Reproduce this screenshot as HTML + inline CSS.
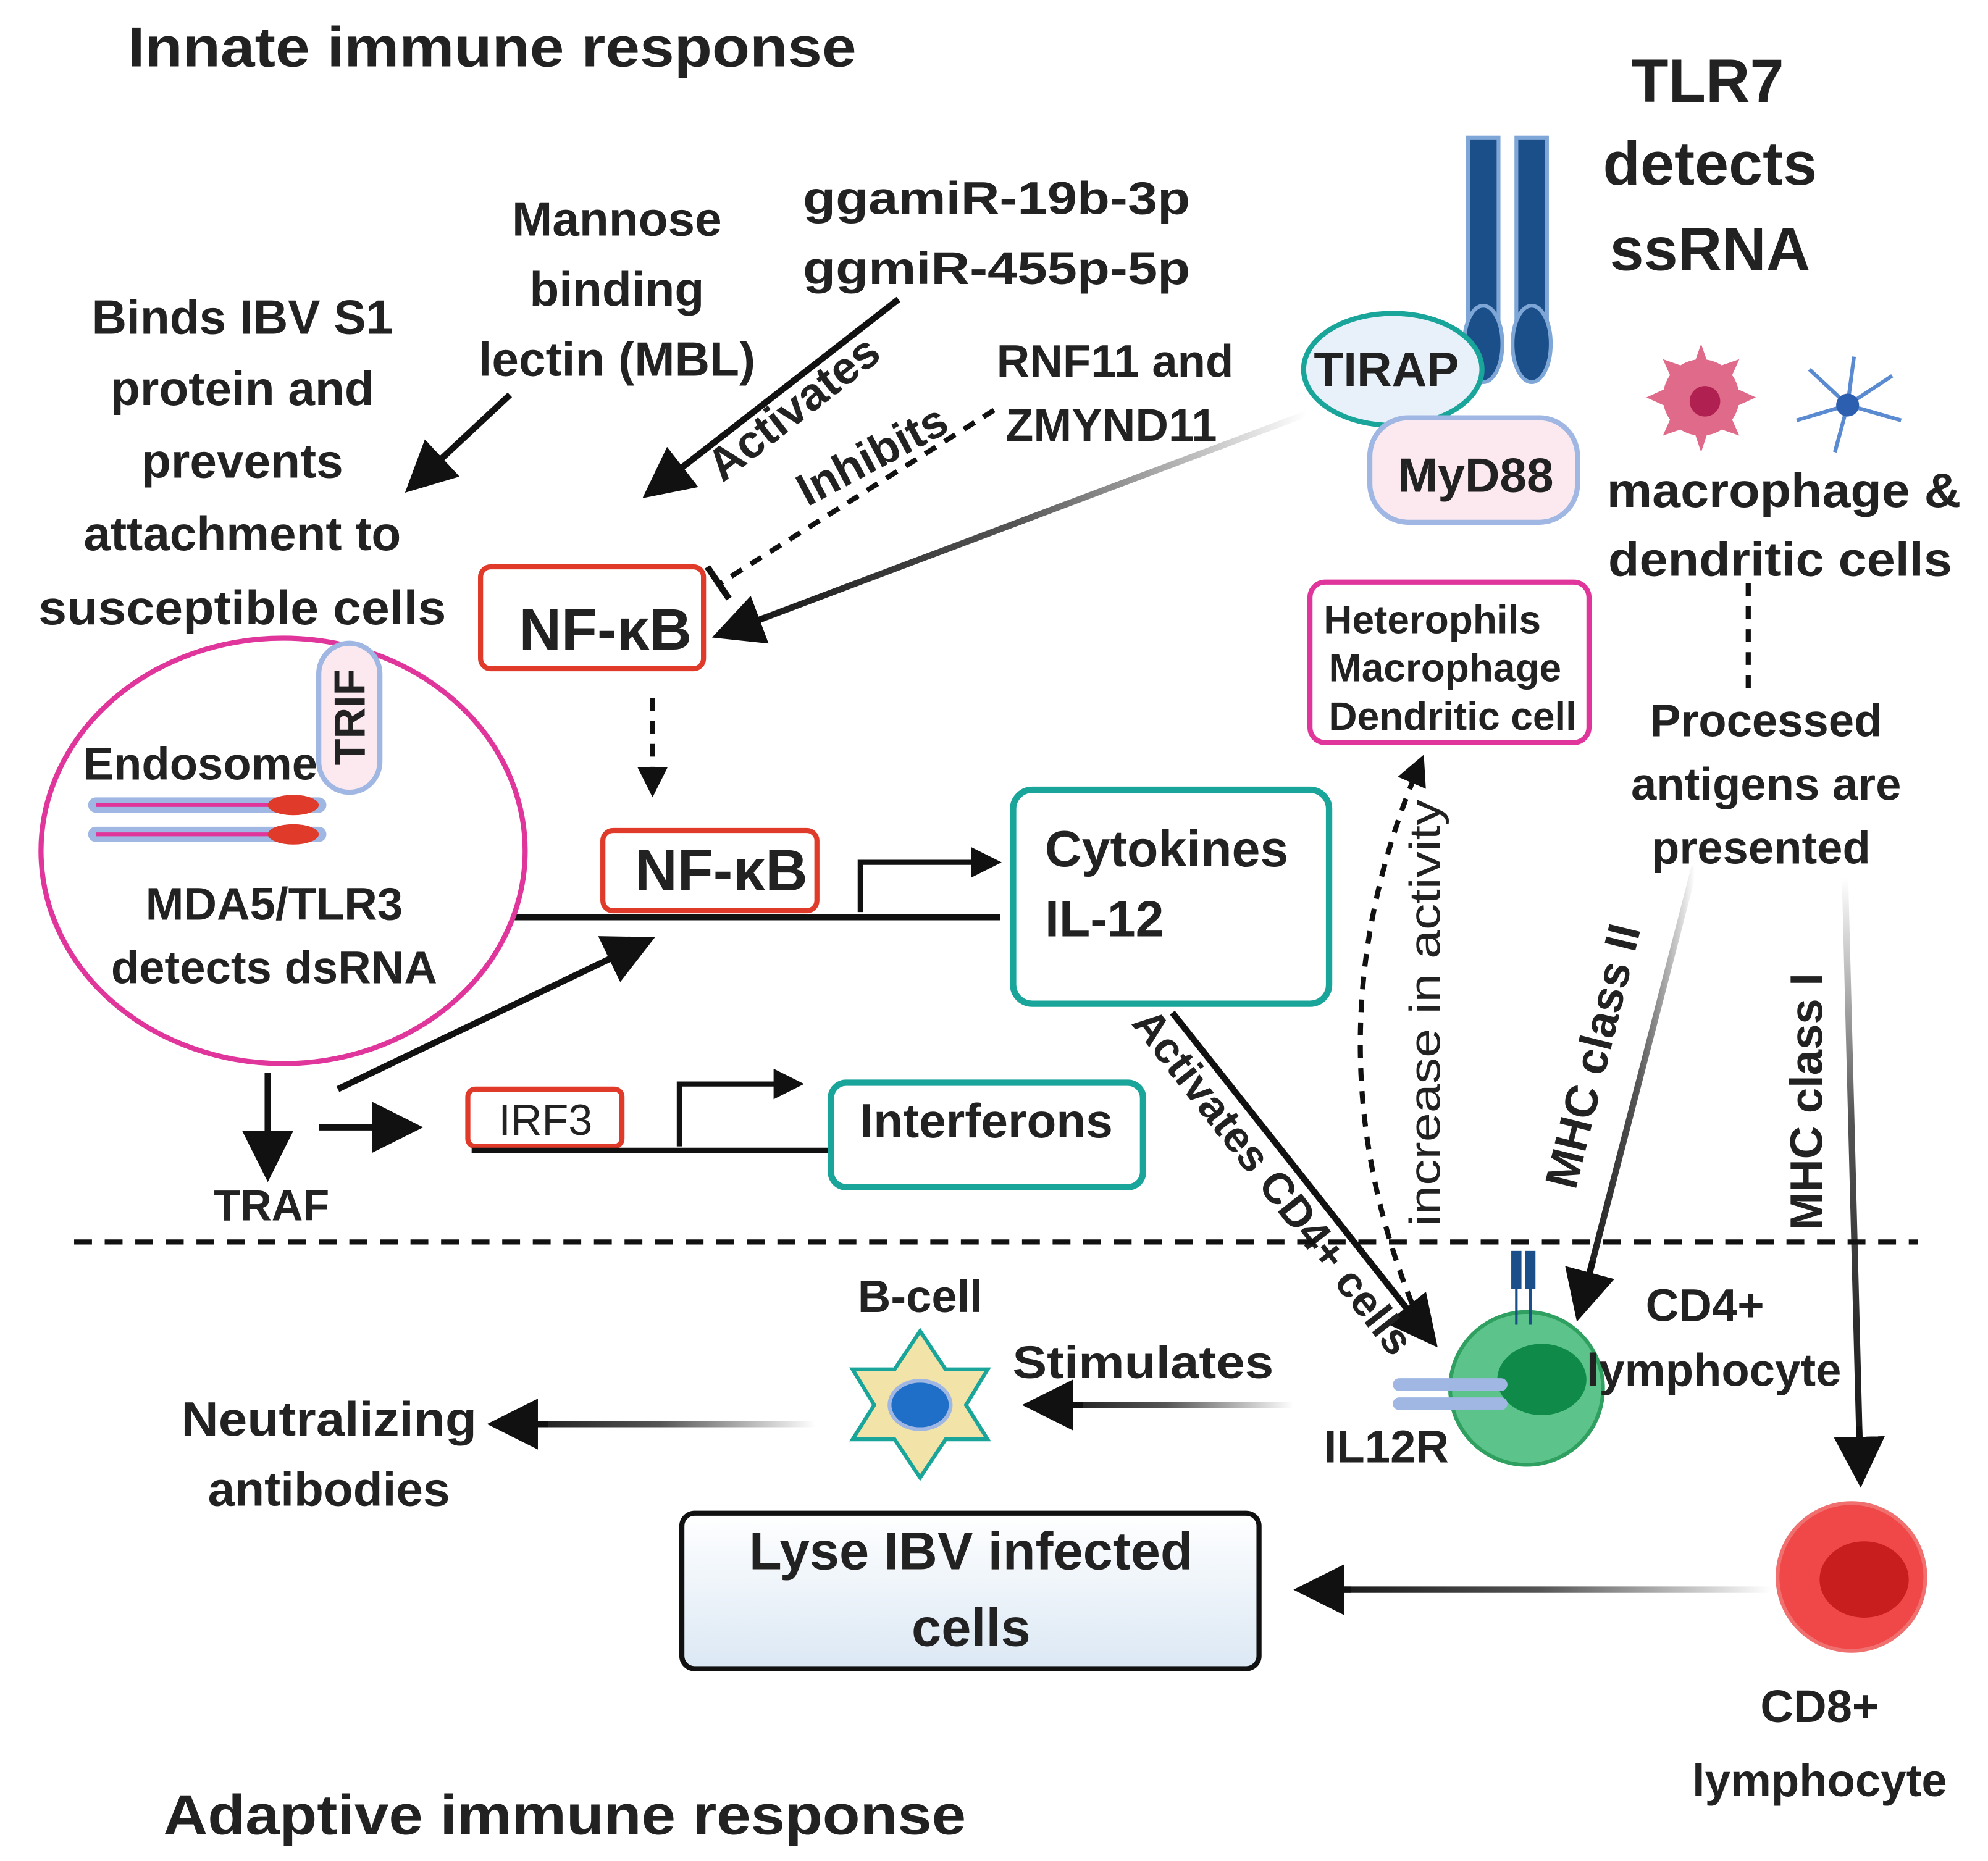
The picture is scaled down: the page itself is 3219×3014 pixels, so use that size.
<!DOCTYPE html>
<html><head><meta charset="utf-8"><style>
html,body{margin:0;padding:0;background:#fff;}
svg{display:block;}
text{font-family:"Liberation Sans",sans-serif;font-weight:bold;fill:#222;}
</style></head><body>
<svg width="3219" height="3014" viewBox="0 0 1560 1461" xmlns="http://www.w3.org/2000/svg">
<defs>
<marker id="ah" markerWidth="8" markerHeight="8" refX="6" refY="4" orient="auto" markerUnits="strokeWidth"><path d="M0,0 L8,4 L0,8 z" fill="#111"/></marker>
<marker id="ahs" markerWidth="6" markerHeight="6" refX="4.5" refY="3" orient="auto" markerUnits="strokeWidth"><path d="M0,0 L6,3 L0,6 z" fill="#111"/></marker>
<linearGradient id="g1" x1="1" y1="0" x2="0" y2="0"><stop offset="0" stop-color="#fff"/><stop offset="0.5" stop-color="#555"/><stop offset="1" stop-color="#111"/></linearGradient>
<linearGradient id="gv" x1="0" y1="0" x2="0" y2="1"><stop offset="0" stop-color="#fff"/><stop offset="0.4" stop-color="#555"/><stop offset="1" stop-color="#111"/></linearGradient>
<linearGradient id="gs" gradientUnits="userSpaceOnUse" x1="1015" y1="0" x2="815" y2="0"><stop offset="0" stop-color="#fff"/><stop offset="0.5" stop-color="#555"/><stop offset="1" stop-color="#111"/></linearGradient>
<linearGradient id="gn" gradientUnits="userSpaceOnUse" x1="640" y1="0" x2="395" y2="0"><stop offset="0" stop-color="#fff"/><stop offset="0.5" stop-color="#555"/><stop offset="1" stop-color="#111"/></linearGradient>
<linearGradient id="gl" gradientUnits="userSpaceOnUse" x1="1390" y1="0" x2="1028" y2="0"><stop offset="0" stop-color="#fff"/><stop offset="0.5" stop-color="#555"/><stop offset="1" stop-color="#111"/></linearGradient>
<linearGradient id="lyse" x1="0" y1="0" x2="0" y2="1"><stop offset="0" stop-color="#fff"/><stop offset="1" stop-color="#dbe8f4"/></linearGradient>
</defs>

<!-- headings -->
<text x="100" y="52" font-size="44" textLength="572" lengthAdjust="spacingAndGlyphs">Innate immune response</text>
<text x="128" y="1440" font-size="44" textLength="630" lengthAdjust="spacingAndGlyphs">Adaptive immune response</text>
<g font-size="48" text-anchor="middle"><text x="1340" y="80">TLR7</text><text x="1342" y="145">detects</text><text x="1342" y="212">ssRNA</text></g>

<!-- TLR7 receptor -->
<rect x="1152" y="108" width="24" height="150" fill="#1a4f8a" stroke="#7ea6d6" stroke-width="3"/>
<rect x="1190" y="108" width="24" height="150" fill="#1a4f8a" stroke="#7ea6d6" stroke-width="3"/>
<ellipse cx="1164" cy="270" rx="15" ry="30" fill="#1a4f8a" stroke="#7ea6d6" stroke-width="3"/>
<ellipse cx="1202" cy="270" rx="15" ry="30" fill="#1a4f8a" stroke="#7ea6d6" stroke-width="3"/>
<ellipse cx="1093" cy="290" rx="70" ry="44" fill="#e8f1fa" stroke="#1aa59a" stroke-width="4"/>
<text x="1088" y="303" font-size="38" text-anchor="middle">TIRAP</text>
<rect x="1075" y="328" width="163" height="82" rx="30" fill="#fbe9ef" stroke="#9fb7e2" stroke-width="4"/>
<text x="1158" y="386" font-size="38" text-anchor="middle">MyD88</text>

<!-- macrophage & dendritic -->
<g fill="#e06a8a"><circle cx="1335" cy="312" r="30"/>
<path d="M1335,270 L1342,290 L1365,282 L1356,302 L1378,312 L1356,322 L1365,342 L1342,334 L1335,355 L1328,334 L1305,342 L1314,322 L1292,312 L1314,302 L1305,282 L1328,290z"/></g>
<circle cx="1338" cy="315" r="12" fill="#b02050"/>
<g stroke="#5a8ad0" stroke-width="3" fill="none"><path d="M1450,318 L1420,290 M1450,318 L1485,295 M1450,318 L1492,330 M1450,318 L1440,355 M1450,318 L1410,330 M1450,318 L1455,280"/></g>
<circle cx="1450" cy="318" r="9" fill="#2d5fb0"/>
<g font-size="38" text-anchor="middle"><text x="1400" y="398" textLength="278" lengthAdjust="spacingAndGlyphs">macrophage &amp;</text><text x="1397" y="452" textLength="270" lengthAdjust="spacingAndGlyphs">dendritic cells</text></g>
<line x1="1372" y1="458" x2="1372" y2="545" stroke="#111" stroke-width="4" stroke-dasharray="10,8"/>
<g font-size="36" text-anchor="middle"><text x="1386" y="578">Processed</text><text x="1386" y="628">antigens are</text><text x="1382" y="678">presented</text></g>

<!-- top text -->
<g font-size="38" text-anchor="middle"><text x="484" y="185">Mannose</text><text x="484" y="240">binding</text><text x="484" y="295">lectin (MBL)</text></g>
<g font-size="36" text-anchor="middle"><text x="782" y="168" textLength="304" lengthAdjust="spacingAndGlyphs">ggamiR-19b-3p</text><text x="782" y="223" textLength="304" lengthAdjust="spacingAndGlyphs">ggmiR-455p-5p</text></g>
<g font-size="38" text-anchor="middle"><text x="190" y="262">Binds IBV S1</text><text x="190" y="318">protein  and</text><text x="190" y="375">prevents</text><text x="190" y="432">attachment to</text><text x="190" y="490" textLength="320" lengthAdjust="spacingAndGlyphs">susceptible cells</text></g>
<g font-size="36" text-anchor="middle"><text x="875" y="296">RNF11 and</text><text x="872" y="346">ZMYND11</text></g>

<line x1="400" y1="310" x2="325" y2="380" stroke="#111" stroke-width="5" marker-end="url(#ah)"/>
<line x1="705" y1="235" x2="512" y2="385" stroke="#111" stroke-width="5" marker-end="url(#ah)"/>
<text transform="translate(630,330) rotate(-38)" font-size="36" text-anchor="middle">Activates</text>
<line x1="780" y1="322" x2="565" y2="458" stroke="#111" stroke-width="4" stroke-dasharray="10,8"/>
<line x1="555" y1="445" x2="572" y2="470" stroke="#111" stroke-width="5"/>
<text transform="translate(690,368) rotate(-28)" font-size="36" text-anchor="middle">Inhibits</text>
<line x1="1025" y1="325" x2="568" y2="497" stroke="url(#g1)" stroke-width="5"/>
<line x1="600" y1="485" x2="568" y2="497" stroke="#111" stroke-width="5" marker-end="url(#ah)"/>

<!-- NF-kB -->
<rect x="377" y="445" width="175" height="80" rx="8" fill="#fff" stroke="#e03a2a" stroke-width="4"/>
<text x="475" y="510" font-size="46" text-anchor="middle">NF-κB</text>
<line x1="512" y1="548" x2="512" y2="620" stroke="#111" stroke-width="4" stroke-dasharray="10,8" marker-end="url(#ahs)"/>
<rect x="473" y="652" width="168" height="63" rx="8" fill="#fff" stroke="#e03a2a" stroke-width="4"/>
<text x="566" y="699" font-size="46" text-anchor="middle">NF-κB</text>
<line x1="375" y1="720" x2="785" y2="720" stroke="#111" stroke-width="5"/>
<polyline points="675,716 675,677 780,677" fill="none" stroke="#111" stroke-width="4" marker-end="url(#ahs)"/>
<rect x="795" y="620" width="248" height="168" rx="15" fill="#fff" stroke="#1aa59a" stroke-width="5"/>
<text x="820" y="680" font-size="40">Cytokines</text><text x="820" y="735" font-size="40">IL-12</text>

<!-- Endosome -->
<ellipse cx="222" cy="668" rx="190" ry="167" fill="#fff" stroke="#e0359a" stroke-width="4"/>
<rect x="250" y="505" width="48" height="117" rx="24" fill="#fbe9ef" stroke="#9fb7e2" stroke-width="4"/>
<text transform="translate(286,563) rotate(-90)" font-size="34" text-anchor="middle">TRIF</text>
<text x="65" y="612" font-size="36">Endosome</text>
<g stroke="#9fb7e2" stroke-width="12" stroke-linecap="round"><line x1="75" y1="632" x2="250" y2="632"/><line x1="75" y1="655" x2="250" y2="655"/></g>
<g stroke="#e0359a" stroke-width="3"><line x1="75" y1="632" x2="230" y2="632"/><line x1="75" y1="655" x2="230" y2="655"/></g>
<ellipse cx="230" cy="632" rx="20" ry="8" fill="#e03a2a"/><ellipse cx="230" cy="655" rx="20" ry="8" fill="#e03a2a"/>
<g font-size="36" text-anchor="middle"><text x="215" y="722">MDA5/TLR3</text><text x="215" y="772">detects dsRNA</text></g>

<line x1="210" y1="842" x2="210" y2="918" stroke="#111" stroke-width="5" marker-end="url(#ah)"/>
<text x="213" y="958" font-size="34" text-anchor="middle">TRAF</text>
<line x1="265" y1="855" x2="505" y2="740" stroke="#111" stroke-width="5" marker-end="url(#ah)"/>
<line x1="250" y1="885" x2="322" y2="885" stroke="#111" stroke-width="5" marker-end="url(#ah)"/>
<rect x="367" y="855" width="121" height="45" rx="6" fill="#fff" stroke="#e03a2a" stroke-width="4"/>
<text x="428" y="891" font-size="34" text-anchor="middle" style="font-weight:normal">IRF3</text>
<line x1="370" y1="903" x2="650" y2="903" stroke="#111" stroke-width="4"/>
<polyline points="533,900 533,851 625,851" fill="none" stroke="#111" stroke-width="4" marker-end="url(#ahs)"/>
<rect x="652" y="850" width="245" height="82" rx="12" fill="#fff" stroke="#1aa59a" stroke-width="5"/>
<text x="774" y="893" font-size="38" text-anchor="middle">Interferons</text>

<!-- Heterophils -->
<rect x="1028" y="457" width="219" height="126" rx="12" fill="#fff" stroke="#e0359a" stroke-width="4"/>
<g font-size="31" text-anchor="middle"><text x="1124" y="497">Heterophils</text><text x="1134" y="535">Macrophage</text><text x="1140" y="573">Dendritic cell</text></g>

<path d="M1115,1040 Q1020,820 1115,598" fill="none" stroke="#111" stroke-width="4" stroke-dasharray="10,8" marker-end="url(#ahs)"/>
<text transform="translate(1130,795) rotate(-90)" font-size="34" text-anchor="middle" style="font-weight:normal" textLength="335" lengthAdjust="spacingAndGlyphs">increase in activity</text>

<line x1="920" y1="795" x2="1122" y2="1050" stroke="#111" stroke-width="5" marker-end="url(#ah)"/>
<text transform="translate(990,935) rotate(52)" font-size="34" text-anchor="middle">Activates CD4+ cells</text>
<line x1="1330" y1="680" x2="1240" y2="1028" stroke="url(#g1)" stroke-width="5"/>
<line x1="1250" y1="990" x2="1240" y2="1028" stroke="#111" stroke-width="5" marker-end="url(#ah)"/>
<text transform="translate(1262,832) rotate(-76)" font-size="36" text-anchor="middle">MHC class II</text>
<line x1="1448" y1="690" x2="1460" y2="1158" stroke="url(#gv)" stroke-width="5"/>
<line x1="1459" y1="1120" x2="1460" y2="1158" stroke="#111" stroke-width="5" marker-end="url(#ah)"/>
<text transform="translate(1430,865) rotate(-90)" font-size="36" text-anchor="middle">MHC class I</text>

<line x1="58" y1="975" x2="1505" y2="975" stroke="#111" stroke-width="4" stroke-dasharray="14,10"/>

<!-- CD4 cell -->
<circle cx="1198" cy="1090" r="60" fill="#5cc48a" stroke="#2fa060" stroke-width="3"/>
<ellipse cx="1210" cy="1083" rx="35" ry="28" fill="#0f8a48"/>
<rect x="1186" y="982" width="8" height="30" fill="#1a4f8a"/><rect x="1197" y="982" width="8" height="30" fill="#1a4f8a"/>
<line x1="1190" y1="1012" x2="1190" y2="1040" stroke="#1a4f8a" stroke-width="2"/><line x1="1201" y1="1012" x2="1201" y2="1040" stroke="#1a4f8a" stroke-width="2"/>
<g stroke="#9fb7e2" stroke-width="10" stroke-linecap="round"><line x1="1098" y1="1087" x2="1178" y2="1087"/><line x1="1098" y1="1102" x2="1178" y2="1102"/></g>
<g font-size="36" text-anchor="middle"><text x="1338" y="1037">CD4+</text><text x="1345" y="1088">lymphocyte</text><text x="1088" y="1148">IL12R</text></g>

<!-- B cell -->
<text x="722" y="1030" font-size="36" text-anchor="middle">B-cell</text>
<path d="M722,1045 L742,1075 L775,1075 L758,1103 L775,1130 L742,1130 L722,1160 L702,1130 L669,1130 L686,1103 L669,1075 L702,1075z" fill="#f2e4a8" stroke="#1aa59a" stroke-width="3"/>
<ellipse cx="722" cy="1103" rx="24" ry="19" fill="#1f6fc8" stroke="#9fb7e2" stroke-width="3"/>
<text x="897" y="1082" font-size="36" text-anchor="middle" textLength="205" lengthAdjust="spacingAndGlyphs">Stimulates</text>
<line x1="1015" y1="1103" x2="815" y2="1103" stroke="url(#gs)" stroke-width="5"/>
<line x1="850" y1="1103" x2="812" y2="1103" stroke="#111" stroke-width="5" marker-end="url(#ah)"/>
<line x1="640" y1="1118" x2="395" y2="1118" stroke="url(#gn)" stroke-width="5"/>
<line x1="430" y1="1118" x2="392" y2="1118" stroke="#111" stroke-width="5" marker-end="url(#ah)"/>
<g font-size="38" text-anchor="middle"><text x="258" y="1127" textLength="232" lengthAdjust="spacingAndGlyphs">Neutralizing</text><text x="258" y="1182">antibodies</text></g>

<!-- Lyse -->
<rect x="535" y="1188" width="453" height="122" rx="10" fill="url(#lyse)" stroke="#111" stroke-width="4"/>
<g font-size="42" text-anchor="middle"><text x="762" y="1232">Lyse IBV infected</text><text x="762" y="1292">cells</text></g>
<line x1="1390" y1="1248" x2="1028" y2="1248" stroke="url(#gl)" stroke-width="5"/>
<line x1="1060" y1="1248" x2="1025" y2="1248" stroke="#111" stroke-width="5" marker-end="url(#ah)"/>

<!-- CD8 -->
<circle cx="1453" cy="1238" r="58" fill="#f04848" stroke="#f07070" stroke-width="3"/>
<ellipse cx="1463" cy="1240" rx="35" ry="30" fill="#c81e1e"/>
<g font-size="36" text-anchor="middle"><text x="1428" y="1352">CD8+</text><text x="1428" y="1410">lymphocyte</text></g>
</svg>
</body></html>
